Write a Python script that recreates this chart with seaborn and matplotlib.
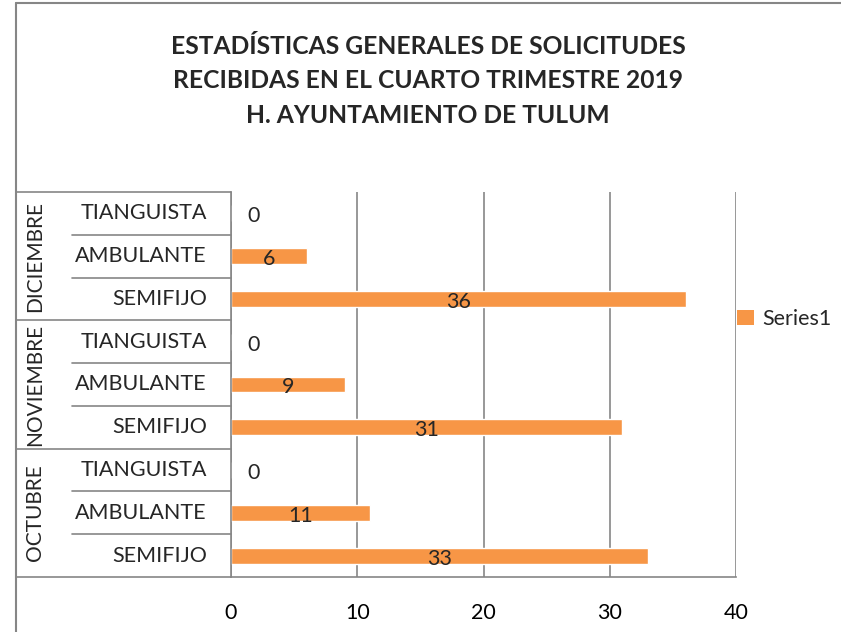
import matplotlib

matplotlib.use("Agg")
import matplotlib.pyplot as plt
import matplotlib.transforms as mtransforms
from matplotlib.lines import Line2D
from matplotlib.patches import Patch
import pandas as pd
import seaborn as sns


# data, top to bottom as in the chart
MONTHS = ["DICIEMBRE", "NOVIEMBRE", "OCTUBRE"]
TYPES = ["TIANGUISTA", "AMBULANTE", "SEMIFIJO"]
DICIEMBRE = [0, 6, 36]
NOVIEMBRE = [0, 9, 31]
OCTUBRE = [0, 11, 33]
TITLE = ("ESTADÍSTICAS GENERALES DE SOLICITUDES\n"
         "RECIBIDAS EN EL CUARTO TRIMESTRE 2019\n"
         "H. AYUNTAMIENTO DE TULUM")
SERIES_NAME = "Series1"

BAR_COLOR = "#F79646"
LINE_COLOR = "#868686"
FONT = ["Lato", "DejaVu Sans"]

W, H = 841, 632


def build_frame() -> pd.DataFrame:
    rows = []
    for month, values in zip(MONTHS, [DICIEMBRE, NOVIEMBRE, OCTUBRE]):
        for kind, value in zip(TYPES, values):
            rows.append({"month": month, "type": kind,
                         "key": f"{month}|{kind}", "value": value})
    return pd.DataFrame(rows)


def main() -> None:
    df = build_frame()
    sns.set_theme(style="white")
    plt.rcParams["font.family"] = FONT

    fig = plt.figure(figsize=(W / 100, H / 100), dpi=100)
    left, right, top, bottom = 231, 736, 192, 577
    ax = fig.add_axes([left / W, 1 - bottom / H, (right - left) / W, (bottom - top) / H])

    sns.barplot(data=df, x="value", y="key", orient="h", color=BAR_COLOR,
                width=0.37, saturation=1, ax=ax)

    ax.set_xlim(0, 40)
    ax.set_xticks([0, 10, 20, 30, 40])
    ax.set_ylim(len(df) - 0.5, -0.5)
    ax.set_yticks([])
    ax.set_xlabel("")
    ax.set_ylabel("")
    ax.tick_params(axis="x", length=8, width=1.2, color=LINE_COLOR, direction="out",
                   labelsize=15.5, pad=11, labelcolor="black")
    ax.xaxis.grid(True, color=LINE_COLOR, linewidth=1.2)
    ax.set_axisbelow(True)
    for side in ["top", "right"]:
        ax.spines[side].set_visible(False)
    for side in ["left", "bottom"]:
        ax.spines[side].set_color(LINE_COLOR)
        ax.spines[side].set_linewidth(1.2)

    # data labels
    for i, v in enumerate(df["value"]):
        xpos = v / 2 if v > 0 else 1.75
        ax.text(xpos, i + 0.07, str(v), ha="center", va="center", fontsize=15.5)

    # category table on the left
    trans = mtransforms.blended_transform_factory(ax.transAxes, ax.transData)
    x_outer = (16 - left) / (right - left)
    x_inner = (72 - left) / (right - left)
    x_text = (207 - left) / (right - left)
    x_month = (35 - left) / (right - left)
    line_kw = dict(color=LINE_COLOR, linewidth=1.2, clip_on=False, transform=trans)
    n = len(TYPES)
    for g, month in enumerate(MONTHS):
        y0 = g * n - 0.5
        ax.plot([x_outer, 0], [y0, y0], **line_kw)
        for k in range(1, n):
            ax.plot([x_inner, 0], [y0 + k, y0 + k], **line_kw)
        ax.text(x_month, y0 + n / 2, month, rotation=90, ha="center", va="center",
                fontsize=15, transform=trans)
    ax.plot([x_outer, 0], [len(df) - 0.5] * 2, **line_kw)
    for i, kind in enumerate(df["type"]):
        ax.text(x_text, i, kind, ha="right", va="center", fontsize=15.5, transform=trans)

    # chart frame (cropped on right and bottom)
    frame_kw = dict(color=LINE_COLOR, linewidth=1.5, transform=fig.transFigure)
    fig.add_artist(Line2D([16 / W, 1.02], [1 - 2.5 / H] * 2, **frame_kw))
    fig.add_artist(Line2D([16 / W] * 2, [-0.02, 1 - 2.5 / H], **frame_kw))

    fig.text(428 / W, 1 - 81 / H, TITLE, ha="center", va="center", fontsize=17.7,
             fontweight="bold", linespacing=1.6)

    handle = Patch(facecolor=BAR_COLOR, edgecolor="none")
    fig.legend([handle], [SERIES_NAME], loc="center left",
               bbox_to_anchor=(718 / W, 1 - 319 / H), frameon=False, fontsize=15.5,
               handlelength=0.75, handleheight=0.75, handletextpad=0.4)

    fig.savefig("out.png", dpi=100)
    plt.close(fig)


if __name__ == "__main__":
    main()
